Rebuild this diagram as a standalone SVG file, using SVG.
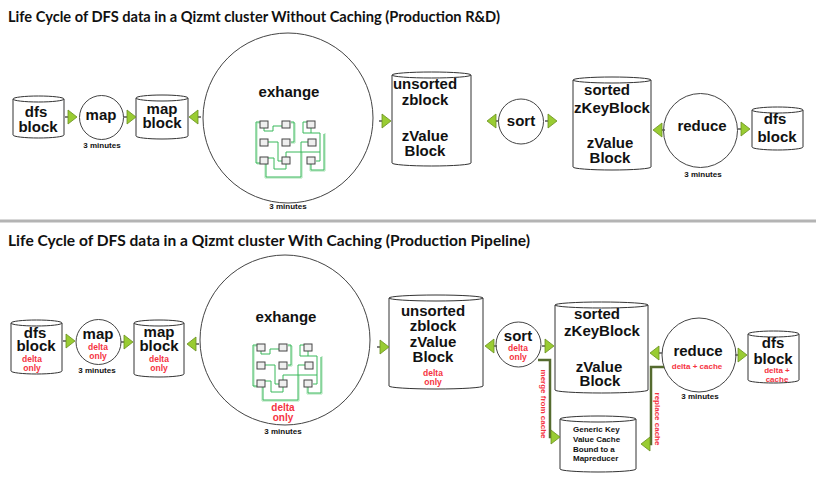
<svg xmlns="http://www.w3.org/2000/svg" xmlns:xlink="http://www.w3.org/1999/xlink" width="816" height="484" viewBox="0 0 816 484">
<style>
.title{font-family:Lato,"Liberation Sans",sans-serif;font-weight:bold;font-size:15px;fill:#111}
.lbl{font-family:"Liberation Sans",Arial,sans-serif;font-weight:bold;font-size:15px;fill:#111;text-anchor:middle}
.min{font-family:"Liberation Sans",Arial,sans-serif;font-weight:bold;font-size:8px;fill:#111;text-anchor:middle}
.red{font-family:"Liberation Sans",Arial,sans-serif;font-weight:bold;font-size:8.5px;fill:#f5333f;text-anchor:middle}
.red8{font-family:"Liberation Sans",Arial,sans-serif;font-weight:bold;font-size:8px;fill:#f5333f;text-anchor:middle}
.sm{font-family:"Liberation Sans",Arial,sans-serif;font-weight:bold;font-size:8px;fill:#111}
.cyl{fill:#fff;stroke:#333;stroke-width:1}
.cir{fill:#fff;stroke:#444;stroke-width:1}
.sq{fill:#efefef;stroke:#444;stroke-width:1}
.gl{fill:none;stroke:#38b85a;stroke-width:1}
.gll{fill:none;stroke:#a8e2b4;stroke-width:1}
.olive{fill:none;stroke:#556b2f;stroke-width:2.5}
</style>
<defs>
<g id="ar">
<path d="M-12,0 H-9" stroke="#555" stroke-width="1.5"/>
<polygon points="-9,-7 0,0 -9,7" fill="#99cc33" stroke="#6a8f1f" stroke-width="0.8"/>
</g>
<g id="al">
<path d="M12,0 H9" stroke="#555" stroke-width="1.5"/>
<polygon points="9,-7 0,0 9,7" fill="#99cc33" stroke="#6a8f1f" stroke-width="0.8"/>
</g>
<g id="net">
<path class="gll" d="M260,123 H257 V164 H260"/>
<path class="gl" d="M260,122 H256 V163 H260"/>
<path class="gl" d="M264,128 V131 H273 V126 H282"/>
<path class="gll" d="M291,123 H295 V143 H291"/>
<path class="gl" d="M291,122 H294 V142 H291"/>
<path class="gl" d="M268,142 H278 V161 H282"/>
<path class="gl" d="M268,158 H274 V169 H286 V164"/>
<path class="gll" d="M265,164 V178 H302 V152"/>
<path class="gl" d="M266,164 V177 H301 V152"/>
<path class="gl" d="M286,157 V152 H320 V161 H316"/>
<path class="gl" d="M307,122 H303 V133 H320 V152"/>
<path class="gl" d="M311,128 V133"/>
<path class="gl" d="M308,142 H301 V152"/>
<path class="gll" d="M310,164 V171 H325 V133"/>
<path class="gl" d="M311,164 V170 H324 V134"/>
<rect class="sq" x="260" y="121" width="8" height="7"/>
<rect class="sq" x="282" y="121" width="8" height="7"/>
<rect class="sq" x="307" y="121" width="8" height="7"/>
<rect class="sq" x="260" y="139" width="8" height="7"/>
<rect class="sq" x="282" y="139" width="8" height="7"/>
<rect class="sq" x="308" y="139" width="8" height="7"/>
<rect class="sq" x="260" y="157" width="8" height="7"/>
<rect class="sq" x="282" y="157" width="8" height="7"/>
<rect class="sq" x="307" y="157" width="8" height="7"/>
</g>
</defs>
<rect x="0" y="0" width="816" height="484" fill="#fff"/>

<text class="title" x="8" y="22" textLength="492" lengthAdjust="spacingAndGlyphs">Life Cycle of DFS data in a Qizmt cluster Without Caching (Production R&amp;D)</text>
<rect x="0" y="219.5" width="816" height="3" fill="#b4b4b4"/>
<text class="title" x="8" y="246" textLength="522" lengthAdjust="spacingAndGlyphs">Life Cycle of DFS data in a Qizmt cluster With Caching (Production Pipeline)</text>

<!-- TOP ROW -->
<g id="t-dfs-in">
<path class="cyl" d="M13,99 a25.5,3 0 0 1 51,0 V135 a25.5,3 0 0 1 -51,0 Z M13,99 a25.5,3 0 0 0 51,0"/>
<text class="lbl" x="36" y="117">dfs</text>
<text class="lbl" x="38" y="132">block</text>
</g>
<g id="t-map">
<circle class="cir" cx="101.5" cy="117.5" r="22"/>
<text class="lbl" x="101" y="120">map</text>
<text class="min" x="102" y="148">3 minutes</text>
</g>
<g id="t-mapblock">
<path class="cyl" d="M136,98 a26,3 0 0 1 52,0 V136 a26,3 0 0 1 -52,0 Z M136,98 a26,3 0 0 0 52,0"/>
<text class="lbl" x="162" y="114">map</text>
<text class="lbl" x="162" y="128">block</text>
</g>
<g id="t-exchange">
<circle class="cir" cx="288" cy="118" r="85"/>
<text class="lbl" x="289" y="97">exhange</text>
<use xlink:href="#net" href="#net"/>
<text class="min" x="288" y="209">3 minutes</text>
</g>
<g id="t-unsorted">
<path class="cyl" d="M392,75 a39.5,3 0 0 1 79,0 V163 a39.5,3 0 0 1 -79,0 Z M392,75 a39.5,3 0 0 0 79,0"/>
<text class="lbl" x="425" y="89">unsorted</text>
<text class="lbl" x="425" y="105">zblock</text>
<text class="lbl" x="425" y="141">zValue</text>
<text class="lbl" x="425" y="156">Block</text>
</g>
<g id="t-sort">
<circle class="cir" cx="521" cy="121.5" r="22.5"/>
<text class="lbl" x="521" y="126">sort</text>
</g>
<g id="t-sorted">
<path class="cyl" d="M573,80 a39,3 0 0 1 78,0 V167 a39,3 0 0 1 -78,0 Z M573,80 a39,3 0 0 0 78,0"/>
<text class="lbl" x="607" y="95">sorted</text>
<text class="lbl" x="612" y="113">zKeyBlock</text>
<text class="lbl" x="610" y="148">zValue</text>
<text class="lbl" x="610" y="163">Block</text>
</g>
<g id="t-reduce">
<circle class="cir" cx="700.5" cy="130.5" r="37"/>
<text class="lbl" x="702" y="131">reduce</text>
<text class="min" x="703" y="177">3 minutes</text>
</g>
<g id="t-dfs-out">
<path class="cyl" d="M752,110 a25.5,3 0 0 1 51,0 V147 a25.5,3 0 0 1 -51,0 Z M752,110 a25.5,3 0 0 0 51,0"/>
<text class="lbl" x="775" y="124">dfs</text>
<text class="lbl" x="777" y="142">block</text>
</g>

<!-- BOTTOM ROW -->
<g id="b-dfs-in">
<path class="cyl" d="M11,323 a25.5,3 0 0 1 51,0 V371 a25.5,3 0 0 1 -51,0 Z M11,323 a25.5,3 0 0 0 51,0"/>
<text class="lbl" x="35" y="338">dfs</text>
<text class="lbl" x="36" y="351">block</text>
<text class="red" x="32" y="362">delta</text>
<text class="red" x="32" y="371">only</text>
</g>
<g id="b-map">
<circle class="cir" cx="98.5" cy="342" r="22.5"/>
<text class="lbl" x="98" y="339">map</text>
<text class="red" x="98" y="350">delta</text>
<text class="red" x="98" y="359">only</text>
<text class="min" x="97" y="373">3 minutes</text>
</g>
<g id="b-mapblock">
<path class="cyl" d="M134,323 a25,3 0 0 1 50,0 V374 a25,3 0 0 1 -50,0 Z M134,323 a25,3 0 0 0 50,0"/>
<text class="lbl" x="159" y="337">map</text>
<text class="lbl" x="159" y="351">block</text>
<text class="red" x="159" y="362">delta</text>
<text class="red" x="159" y="371">only</text>
</g>
<g id="b-exchange">
<circle class="cir" cx="285" cy="340" r="85"/>
<text class="lbl" x="286" y="322">exhange</text>
<use xlink:href="#net" href="#net" transform="translate(-3,223)"/>
<text class="red" x="283" y="411" style="font-size:10px">delta</text>
<text class="red" x="283" y="421" style="font-size:10px">only</text>
<text class="min" x="283" y="434">3 minutes</text>
</g>
<g id="b-unsorted">
<path class="cyl" d="M389,298 a47,3 0 0 1 94,0 V386 a47,3 0 0 1 -94,0 Z M389,298 a47,3 0 0 0 94,0"/>
<text class="lbl" x="433" y="316">unsorted</text>
<text class="lbl" x="433" y="331">zblock</text>
<text class="lbl" x="433" y="347">zValue</text>
<text class="lbl" x="433" y="362">Block</text>
<text class="red" x="433" y="376">delta</text>
<text class="red" x="433" y="385">only</text>
</g>
<g id="b-sort">
<circle class="cir" cx="518.5" cy="344.5" r="22.5"/>
<text class="lbl" x="518" y="341">sort</text>
<text class="red" x="518" y="351">delta</text>
<text class="red" x="518" y="360">only</text>
</g>
<g id="b-sorted">
<path class="cyl" d="M555,305 a46.5,3 0 0 1 93,0 V390 a46.5,3 0 0 1 -93,0 Z M555,305 a46.5,3 0 0 0 93,0"/>
<text class="lbl" x="597" y="319">sorted</text>
<text class="lbl" x="602" y="336">zKeyBlock</text>
<text class="lbl" x="599" y="372">zValue</text>
<text class="lbl" x="600" y="386">Block</text>
</g>
<g id="b-reduce">
<circle class="cir" cx="699" cy="355" r="37"/>
<text class="lbl" x="698" y="356">reduce</text>
<text class="red8" x="697" y="369">delta + cache</text>
<text class="min" x="700" y="399">3 minutes</text>
</g>
<g id="b-dfs-out">
<path class="cyl" d="M748,334 a25.5,3 0 0 1 51,0 V380 a25.5,3 0 0 1 -51,0 Z M748,334 a25.5,3 0 0 0 51,0"/>
<text class="lbl" x="773" y="348">dfs</text>
<text class="lbl" x="773" y="364">block</text>
<text class="red8" x="777" y="373">delta +</text>
<text class="red8" x="777" y="382">cache</text>
</g>
<g id="b-cache">
<path class="cyl" d="M560,419 a38,3 0 0 1 76,0 V469 a38,3 0 0 1 -76,0 Z M560,419 a38,3 0 0 0 76,0"/>
<text class="sm" x="573" y="432">Generic Key</text>
<text class="sm" x="573" y="442">Value Cache</text>
<text class="sm" x="573" y="452">Bound to a</text>
<text class="sm" x="573" y="461">Mapreducer</text>
</g>

<g id="connectors">
<use xlink:href="#ar" href="#ar" x="77" y="117"/>
<use xlink:href="#ar" href="#ar" x="136" y="117"/>
<use xlink:href="#al" href="#al" x="189" y="117"/>
<use xlink:href="#ar" href="#ar" x="391" y="121"/>
<use xlink:href="#al" href="#al" x="487" y="121"/>
<use xlink:href="#ar" href="#ar" x="557" y="121"/>
<use xlink:href="#al" href="#al" x="653" y="130"/>
<use xlink:href="#ar" href="#ar" x="750" y="129"/>

<use xlink:href="#ar" href="#ar" x="75" y="341"/>
<use xlink:href="#ar" href="#ar" x="133" y="342"/>
<use xlink:href="#al" href="#al" x="187" y="344"/>
<use xlink:href="#ar" href="#ar" x="389" y="347"/>
<use xlink:href="#al" href="#al" x="485" y="346"/>
<use xlink:href="#ar" href="#ar" x="554" y="346"/>
<use xlink:href="#al" href="#al" x="650" y="353"/>
<use xlink:href="#ar" href="#ar" x="747" y="355"/>

<path class="olive" d="M538,360 H550 V437 H552"/>
<polygon points="551,430 560,437 551,444" fill="#99cc33" stroke="#6a8f1f" stroke-width="0.8"/>
<path class="olive" d="M664,367 H651 V444 H650"/>
<polygon points="650,437 641,444 650,451" fill="#99cc33" stroke="#6a8f1f" stroke-width="0.8"/>
<text class="red8" transform="translate(541,404) rotate(90)">merge from cache</text>
<text class="red8" transform="translate(655,419) rotate(90)">replace cache</text>
</g>
</svg>
